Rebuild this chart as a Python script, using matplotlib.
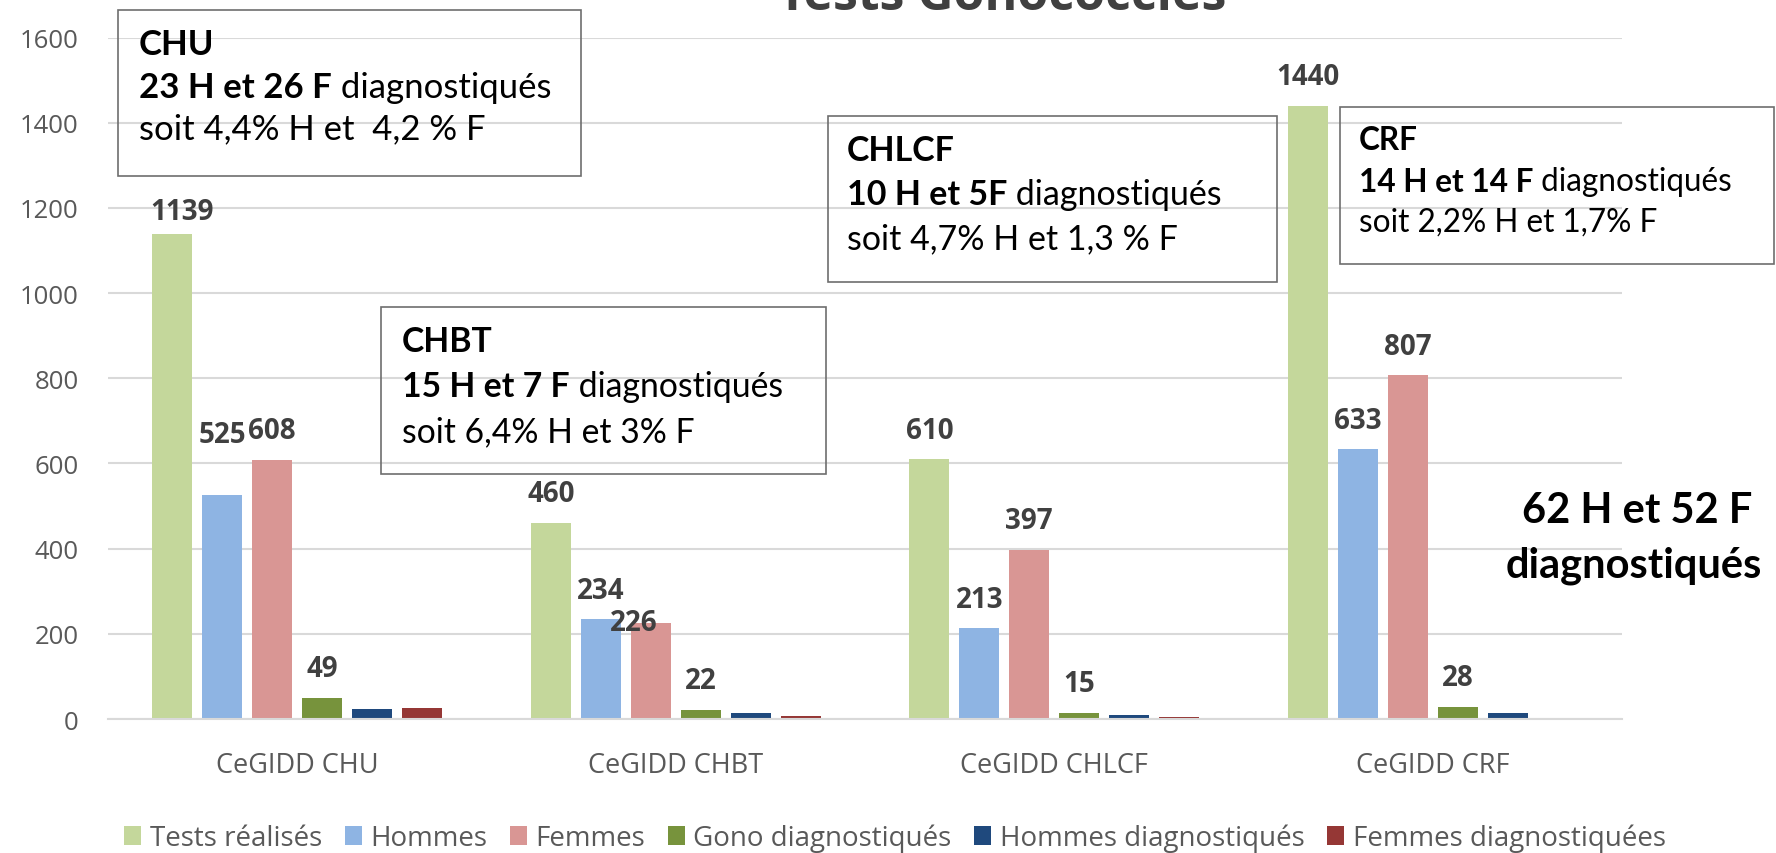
import numpy as np
import matplotlib
matplotlib.use("Agg")
import matplotlib.pyplot as plt
from matplotlib.patches import Rectangle, Patch

W, H = 1776, 854

# data
centres = ["CeGIDD CHU", "CeGIDD CHBT", "CeGIDD CHLCF", "CeGIDD CRF"]
series_names = ["Tests réalisés", "Hommes", "Femmes", "Gono diagnostiqués",
                "Hommes diagnostiqués", "Femmes diagnostiquées"]
tests = [1139, 460, 610, 1440]
hommes = [525, 234, 213, 633]
femmes = [608, 226, 397, 807]
gono = [49, 22, 15, 28]
hommes_diag = [23, 15, 10, 14]
femmes_diag = [26, 7, 5, 0]
yticks = [0, 200, 400, 600, 800, 1000, 1200, 1400, 1600]

box_titles = ["CHU", "CHBT", "CHLCF", "CRF"]
box_bold = ["23 H et 26 F", "15 H et 7 F", "10 H et 5F", "14 H et 14 F"]
box_rates = ["soit 4,4% H et  4,2 % F", "soit 6,4% H et 3% F",
             "soit 4,7% H et 1,3 % F", "soit 2,2% H et 1,7% F"]
total_lines = ["62 H et 52 F", "diagnostiqués"]
title = "Tests Gonococcies"

colors = ["#C4D79B", "#8EB4E3", "#D99694", "#77933C", "#1F497D", "#953735"]
series = [tests, hommes, femmes, gono, hommes_diag, femmes_diag]

UI = "Open Sans"
CAL = "Lato"
GREY = "#595959"

fig = plt.figure(figsize=(W / 100, H / 100), dpi=100)
ax = fig.add_axes([108 / W, 1 - 720 / H, (1622 - 108) / W, (720 - 38.5) / H])

x = np.arange(len(centres))
pitch = 0.132
bw = 0.106
for i, (vals, col) in enumerate(zip(series, colors)):
    pos = x + (i - 2.5) * pitch
    bars = ax.bar(pos, vals, width=bw, color=col, zorder=2)
    if i < 4:
        for j, (b, v) in enumerate(zip(bars, vals)):
            # a few labels were nudged by hand in the original
            dx, dy = 0, 21
            if i == 0 and j == 0:
                dx, dy = 7, 16
            if i == 1 and j == 0:
                dy = 44
            if i == 2 and j == 1:
                dx, dy = -12, 0
            ax.annotate(str(v), (b.get_x() + b.get_width() / 2, v),
                        xytext=(dx, dy), textcoords="offset points",
                        ha="center", va="center", fontsize=20,
                        fontweight="bold", color="#404040", family=UI)

ax.set_xlim(-0.5, len(centres) - 0.5)
ax.set_ylim(0, 1600)
ax.set_yticks(yticks)
ax.set_xticks(x)
ax.set_xticklabels(centres)
ax.grid(axis="y", color="#D9D9D9", linewidth=1.5, zorder=0)
ax.set_axisbelow(True)
for s in ["top", "right", "left"]:
    ax.spines[s].set_visible(False)
ax.spines["bottom"].set_color("#D9D9D9")
ax.spines["bottom"].set_linewidth(1.5)
ax.tick_params(length=0, labelcolor=GREY)
ax.tick_params(axis="x", labelsize=19.5, pad=23)
ax.tick_params(axis="y", labelsize=18.5, pad=21)
for lab in ax.get_xticklabels() + ax.get_yticklabels():
    lab.set_family(UI)

# title, cut by the top edge as in the source screenshot
fig.text(1002 / W, 1 - 10 / H, title, ha="center", va="baseline",
         fontsize=36, fontweight="bold", color="#404040", family=UI)

# annotation boxes (pixel geometry: left, top, right, bottom, text x, line y's, font size)
boxes = [
    (118, 11, 581, 177, 139, (45, 88, 129), 25),
    (381, 308, 826, 475, 402, (342, 387, 432), 24.3),
    (828, 117, 1277, 283, 847, (151, 195, 239), 24.5),
    (1340, 108, 1774, 265, 1359, (140, 182, 223), 22.7),
]
renderer = fig.canvas.get_renderer()
for k, (l, t, r, b, tx, ly, fs) in enumerate(boxes):
    fig.patches.append(Rectangle((l / W, 1 - b / H), (r - l) / W, (b - t) / H,
                                 transform=fig.transFigure, fill=False,
                                 edgecolor="#6E6E6E", linewidth=1.2))
    fig.text(tx / W, 1 - ly[0] / H, box_titles[k], ha="left", va="center",
             fontsize=fs, fontweight="bold", color="black", family=CAL)
    bt = fig.text(tx / W, 1 - ly[1] / H, box_bold[k], ha="left", va="center",
                  fontsize=fs, fontweight="bold", color="black", family=CAL)
    ext = bt.get_window_extent(renderer)
    fig.text(ext.x1 / W, 1 - ly[1] / H, " diagnostiqués", ha="left", va="center",
             fontsize=fs, color="black", family=CAL)
    fig.text(tx / W, 1 - ly[2] / H, box_rates[k], ha="left", va="center",
             fontsize=fs, color="black", family=CAL)

fig.text(1637 / W, 1 - 511 / H, total_lines[0], ha="center", va="center",
         fontsize=30, fontweight="bold", color="black", family=CAL)
fig.text(1634 / W, 1 - 566 / H, total_lines[1], ha="center", va="center",
         fontsize=30, fontweight="bold", color="black", family=CAL)

handles = [Patch(facecolor=c, edgecolor="none") for c in colors]
leg = fig.legend(handles, series_names, loc="center", ncol=6,
                 bbox_to_anchor=(895 / W, 1 - 839 / H), frameon=False,
                 prop={"family": UI, "size": 20}, handlelength=0.61,
                 handleheight=0.65, handletextpad=0.32, columnspacing=0.8)
for t in leg.get_texts():
    t.set_color(GREY)

fig.savefig("out.png", dpi=100)
